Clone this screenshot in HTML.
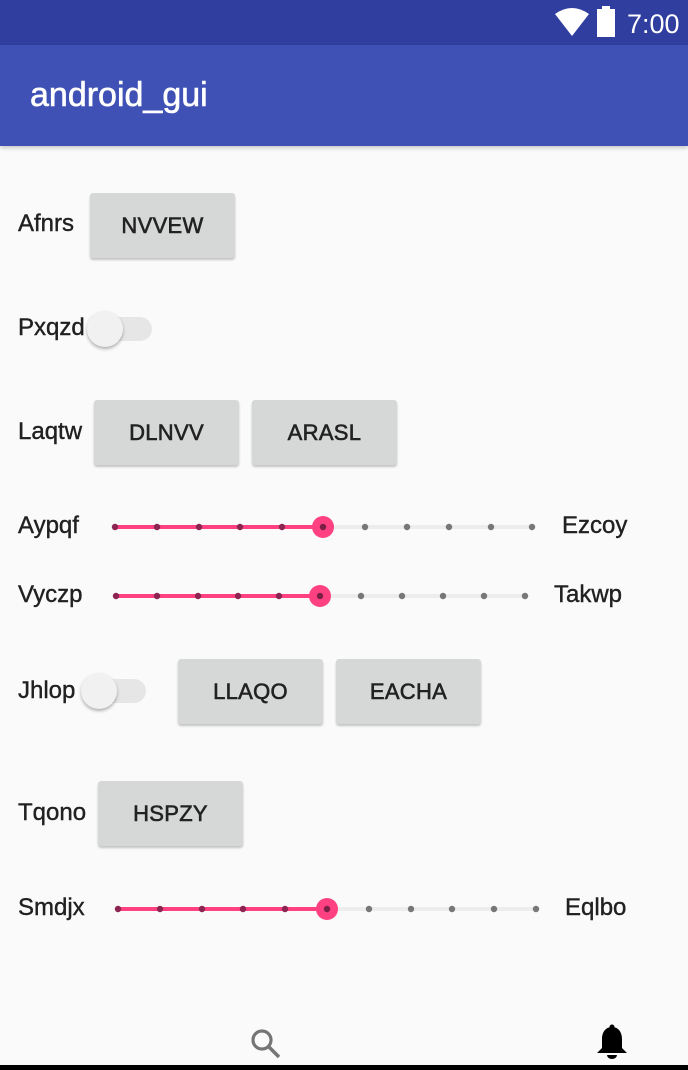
<!DOCTYPE html>
<html><head><meta charset="utf-8"><style>
*{margin:0;padding:0;box-sizing:border-box}
body{width:688px;height:1070px;background:#FAFAFA;position:relative;overflow:hidden;font-family:"Liberation Sans",sans-serif;color:#212121}
.a{position:absolute}
.lbl{position:absolute;font-size:24px;line-height:28px;transform:translateY(-50%);white-space:nowrap;-webkit-text-stroke:0.4px #212121}
.btn{position:absolute;background:#D6D7D7;border-radius:3px;box-shadow:0 2px 2px rgba(0,0,0,.22);font-size:22px;color:#222;display:flex;align-items:center;justify-content:center;height:65px;width:145px;letter-spacing:0.3px}
.btn span{font-weight:normal;-webkit-text-stroke:0.6px #222}
.trk{position:absolute;height:24px;width:62px;border-radius:12px;background:#E6E6E6}
.th{position:absolute;width:36px;height:36px;border-radius:50%;background:#F1F1F1;box-shadow:0 2px 3px rgba(0,0,0,.3)}
</style></head><body>
<div class="a" style="left:0;top:0;width:688px;height:45px;background:#303F9F"></div>
<div class="a" style="left:0;top:45px;width:688px;height:101px;background:#3F51B5;box-shadow:0 2px 4px rgba(0,0,0,.2)"></div>
<div class="a" style="left:30px;top:75px;font-size:34px;line-height:40px;color:#fff;-webkit-text-stroke:0.6px #fff">android_gui</div>
<svg class="a" style="left:550px;top:0" width="138" height="45">
<path d="M5 14 Q22 2 39 14 L22 36 Z" fill="#fff"/>
<rect x="47" y="9" width="18" height="28" fill="#fff"/><rect x="52" y="6" width="8" height="4" fill="#fff"/>
<text x="77" y="33" font-size="27" fill="#fff" font-family="Liberation Sans">7:00</text>
</svg>

<div class="lbl" style="left:18px;top:224px">Afnrs</div>
<div class="btn" style="left:90px;top:193px"><span>NVVEW</span></div>

<div class="lbl" style="left:18px;top:328px">Pxqzd</div>
<div class="trk" style="left:90px;top:317px"></div>
<div class="th" style="left:87px;top:311px"></div>

<div class="lbl" style="left:18px;top:432px">Laqtw</div>
<div class="btn" style="left:94px;top:400px"><span>DLNVV</span></div>
<div class="btn" style="left:252px;top:400px"><span>ARASL</span></div>

<div class="lbl" style="left:18px;top:526px">Aypqf</div>
<div class="lbl" style="left:562px;top:526px">Ezcoy</div>
<div class="lbl" style="left:18px;top:595px">Vyczp</div>
<div class="lbl" style="left:554px;top:595px">Takwp</div>

<div class="lbl" style="left:18px;top:691px">Jhlop</div>
<div class="trk" style="left:84px;top:679px"></div>
<div class="th" style="left:81px;top:673px"></div>
<div class="btn" style="left:178px;top:659px"><span>LLAQO</span></div>
<div class="btn" style="left:336px;top:659px"><span>EACHA</span></div>

<div class="lbl" style="left:18px;top:813px">Tqono</div>
<div class="btn" style="left:98px;top:781px"><span>HSPZY</span></div>

<div class="lbl" style="left:18px;top:908px">Smdjx</div>
<div class="lbl" style="left:565px;top:908px">Eqlbo</div>

<svg class="a" style="left:0;top:0" width="688" height="1070">
<g>
<line x1="115" y1="527" x2="532" y2="527" stroke="#EDEDED" stroke-width="4"/>
<line x1="115" y1="527" x2="323" y2="527" stroke="#FF4081" stroke-width="4"/>
<g fill="#777"><circle cx="365" cy="527" r="3.2"/><circle cx="407" cy="527" r="3.2"/><circle cx="449" cy="527" r="3.2"/><circle cx="491" cy="527" r="3.2"/><circle cx="532" cy="527" r="3.2"/></g>
<g fill="#8B2450"><circle cx="115" cy="527" r="3.2"/><circle cx="157" cy="527" r="3.2"/><circle cx="199" cy="527" r="3.2"/><circle cx="240" cy="527" r="3.2"/><circle cx="282" cy="527" r="3.2"/></g>
<circle cx="323" cy="527" r="11" fill="#FF4081"/><circle cx="323" cy="527" r="3.2" fill="#7A1F45"/>
</g>
<g>
<line x1="116" y1="596" x2="525" y2="596" stroke="#EDEDED" stroke-width="4"/>
<line x1="116" y1="596" x2="320" y2="596" stroke="#FF4081" stroke-width="4"/>
<g fill="#777"><circle cx="361" cy="596" r="3.2"/><circle cx="402" cy="596" r="3.2"/><circle cx="443" cy="596" r="3.2"/><circle cx="484" cy="596" r="3.2"/><circle cx="525" cy="596" r="3.2"/></g>
<g fill="#8B2450"><circle cx="116" cy="596" r="3.2"/><circle cx="157" cy="596" r="3.2"/><circle cx="198" cy="596" r="3.2"/><circle cx="238" cy="596" r="3.2"/><circle cx="279" cy="596" r="3.2"/></g>
<circle cx="320" cy="596" r="11" fill="#FF4081"/><circle cx="320" cy="596" r="3.2" fill="#7A1F45"/>
</g>
<g>
<line x1="118" y1="909" x2="536" y2="909" stroke="#EDEDED" stroke-width="4"/>
<line x1="118" y1="909" x2="327" y2="909" stroke="#FF4081" stroke-width="4"/>
<g fill="#777"><circle cx="369" cy="909" r="3.2"/><circle cx="411" cy="909" r="3.2"/><circle cx="452" cy="909" r="3.2"/><circle cx="494" cy="909" r="3.2"/><circle cx="536" cy="909" r="3.2"/></g>
<g fill="#8B2450"><circle cx="118" cy="909" r="3.2"/><circle cx="160" cy="909" r="3.2"/><circle cx="202" cy="909" r="3.2"/><circle cx="243" cy="909" r="3.2"/><circle cx="285" cy="909" r="3.2"/></g>
<circle cx="327" cy="909" r="11" fill="#FF4081"/><circle cx="327" cy="909" r="3.2" fill="#7A1F45"/>
</g>
<circle cx="262" cy="1040" r="9" fill="none" stroke="#757575" stroke-width="3.2"/>
<line x1="268.5" y1="1046.5" x2="279" y2="1057" stroke="#757575" stroke-width="3.5"/>
<path d="M612 1027 c-7 0 -10 6 -10 12 v9 l-5 5 h30 l-5 -5 v-9 c0 -6 -3 -12 -10 -12z" fill="#000"/>
<circle cx="612" cy="1027" r="2.5" fill="#000"/>
<path d="M607 1055 h10 a5 4 0 0 1 -10 0z" fill="#000"/>
<rect x="0" y="1065" width="688" height="5" fill="#000"/>
</svg>
</body></html>
